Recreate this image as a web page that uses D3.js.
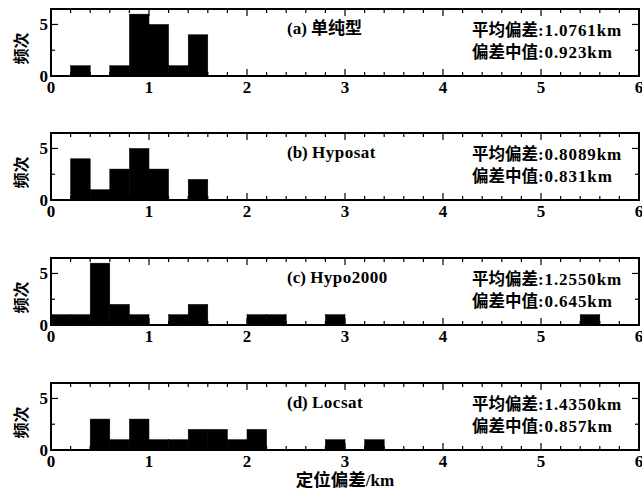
<!DOCTYPE html>
<html>
<head>
<meta charset="utf-8">
<script src="https://cdn.jsdelivr.net/npm/d3@7"></script>
<style>
  body { margin: 0; background: #fff; }
  .num { font-family: "Liberation Serif", serif; font-weight: bold; font-size: 17px; }
  .cjk { font-family: "Noto Sans CJK SC", sans-serif; font-weight: bold; }
</style>
</head>
<body>
<div id="main"></div>
<script>
// bin width 0.2 km, bins from 0 to 6
const binWidth = 0.2;
const countsA = [0,1,0,1,6,5,1,4,0,0,0,0,0,0,0,0,0,0,0,0,0,0,0,0,0,0,0,0,0,0];
const countsB = [0,4,1,3,5,3,0,2,0,0,0,0,0,0,0,0,0,0,0,0,0,0,0,0,0,0,0,0,0,0];
const countsC = [1,1,6,2,1,0,1,2,0,0,1,1,0,0,1,0,0,0,0,0,0,0,0,0,0,0,0,1,0,0];
const countsD = [0,0,3,1,3,1,1,2,2,1,2,0,0,0,1,0,1,0,0,0,0,0,0,0,0,0,0,0,0,0];
const panelNames = ["(a) 单纯型", "(b) Hyposat", "(c) Hypo2000", "(d) Locsat"];
const meanDev = ["1.0761km", "0.8089km", "1.2550km", "1.4350km"];
const medianDev = ["0.923km", "0.831km", "0.645km", "0.857km"];
const xTicks = [0, 1, 2, 3, 4, 5, 6];
const yTicks = [0, 5];

const ctx = { w: 642, h: 499, left: 51, right: 639, tops: [9, 133, 258, 383], ph: 67 };

function drawPanel(g, counts, i){
    let top = ctx.tops[i], bottom = top + ctx.ph;
    let x = ctx.xScale;
    let y = d3.scaleLinear().domain([0, 6.5]).range([bottom, top]);
    // bars
    g.selectAll("rect.bar").data(counts.map((c, k) => ({x0: k*binWidth, c: c})).filter(d => d.c > 0))
      .enter().append("rect").attr("class", "bar")
      .attr("x", d => x(d.x0)).attr("width", d => x(d.x0 + binWidth) - x(d.x0))
      .attr("y", d => y(d.c)).attr("height", d => y(0) - y(d.c))
      .attr("fill", "#000").attr("stroke", "#000").attr("stroke-width", 0.5);
    // minor + major ticks, bottom and top, pointing inward
    let minor = d3.range(0, 6.001, binWidth);
    let tickG = g.append("g").attr("stroke", "#000").attr("stroke-width", 1.2);
    minor.forEach(v => {
        let major = Math.abs(v - Math.round(v)) < 1e-6;
        let len = major ? 7 : 4;
        tickG.append("line").attr("x1", x(v)).attr("x2", x(v)).attr("y1", bottom).attr("y2", bottom - len);
        tickG.append("line").attr("x1", x(v)).attr("x2", x(v)).attr("y1", top).attr("y2", top + len);
    });
    [2.5, 5].forEach(v => {
        let len = v === 5 ? 7 : 4;
        tickG.append("line").attr("x1", ctx.left).attr("x2", ctx.left + len).attr("y1", y(v)).attr("y2", y(v));
        tickG.append("line").attr("x1", ctx.right).attr("x2", ctx.right - len).attr("y1", y(v)).attr("y2", y(v));
    });
    // frame
    g.append("rect").attr("x", ctx.left).attr("y", top)
      .attr("width", ctx.right - ctx.left).attr("height", ctx.ph)
      .attr("fill", "none").attr("stroke", "#000").attr("stroke-width", 2);
    // x tick labels
    g.selectAll("text.xt").data(xTicks).enter().append("text").attr("class", "num")
      .attr("x", d => x(d)).attr("y", bottom + 17).attr("text-anchor", "middle").text(d => d);
    // y tick labels
    g.selectAll("text.yt").data(yTicks).enter().append("text").attr("class", "num")
      .attr("x", ctx.left - 3).attr("y", d => y(d) + 6).attr("text-anchor", "end").text(d => d);
    // y label
    g.append("text").attr("class", "cjk").attr("font-size", 16)
      .attr("transform", `translate(27,${top + ctx.ph/2 + 6}) rotate(-90)`)
      .attr("text-anchor", "middle").text("频次");
    // panel name
    let nm = g.append("text").attr("x", 287).attr("y", top + 25);
    let parts = panelNames[i].split(" ");
    nm.append("tspan").attr("class", "num").attr("font-size", 18).text(parts[0] + " ");
    let cj = /[\u4e00-\u9fff]/.test(parts[1]);
    nm.append("tspan").attr("class", cj ? "cjk" : "num").attr("font-size", cj ? 17 : 18)
      .attr("letter-spacing", cj ? 0 : 0.5).text(parts[1]);
    // stats
    let s1 = g.append("text").attr("x", 472).attr("y", top + 27);
    s1.append("tspan").attr("class", "cjk").attr("font-size", 16.5).text("平均偏差");
    s1.append("tspan").attr("class", "num").attr("font-size", 18).attr("letter-spacing", 0.9).text(":" + meanDev[i]);
    let s2 = g.append("text").attr("x", 472).attr("y", top + 49);
    s2.append("tspan").attr("class", "cjk").attr("font-size", 16.5).text("偏差中值");
    s2.append("tspan").attr("class", "num").attr("font-size", 18).attr("letter-spacing", 0.9).text(":" + medianDev[i]);
}

function createViz(){
    let svgEl = d3.select("#main").append("svg").attr("width", ctx.w).attr("height", ctx.h);
    ctx.xScale = d3.scaleLinear().domain([0, 6]).range([ctx.left, ctx.right]);
    let all = [countsA, countsB, countsC, countsD];
    all.forEach((c, i) => drawPanel(svgEl.append("g"), c, i));
    // x axis label
    let xl = svgEl.append("text").attr("x", 345).attr("y", 486).attr("text-anchor", "middle");
    xl.append("tspan").attr("class", "cjk").attr("font-size", 17.5).text("定位偏差");
    xl.append("tspan").attr("class", "num").attr("font-size", 19).text("/km");
}

createViz();
</script>
</body>
</html>
